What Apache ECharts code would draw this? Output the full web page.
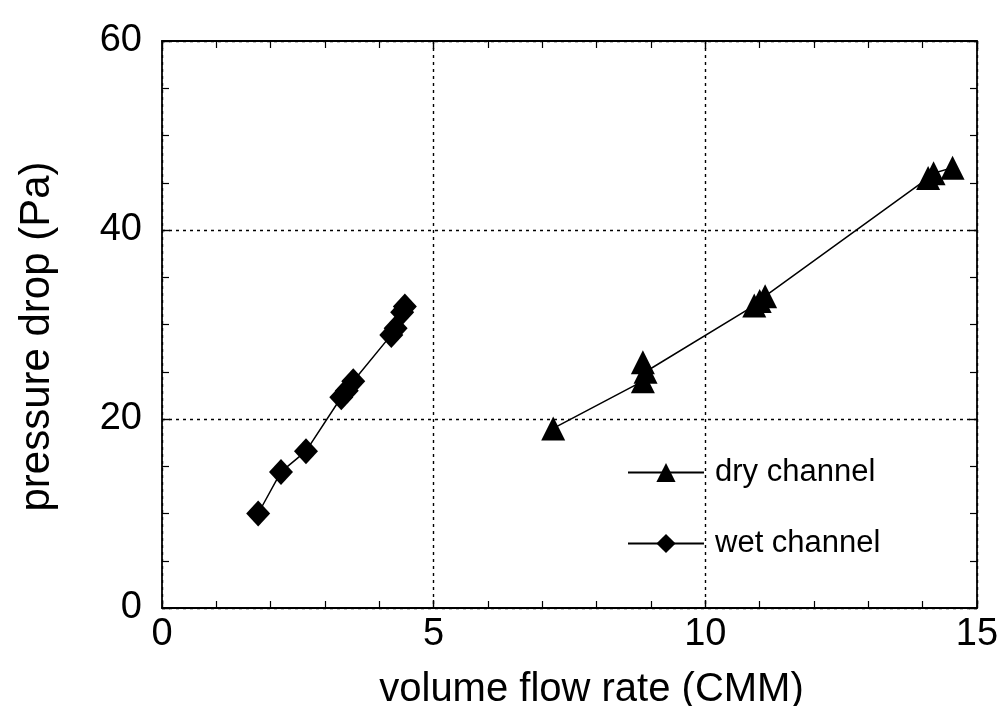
<!DOCTYPE html>
<html><head><meta charset="utf-8">
<script src="https://cdn.jsdelivr.net/npm/echarts@6/dist/echarts.min.js"></script>
<style>html,body{margin:0;padding:0;background:#fff}#c{width:998px;height:706px}</style>
</head><body><div id="c"></div>
<script>
const dryX = [7.2, 8.85, 8.85, 8.9, 10.9, 11.0, 11.1, 14.1, 14.2, 14.55];
const dryY = [19.0, 24.0, 26.0, 25.0, 32.0, 32.5, 33.0, 45.5, 46.0, 46.6];
const wetX = [1.77, 2.19, 2.65, 3.3, 3.4, 3.52, 4.22, 4.3, 4.42, 4.47];
const wetY = [10.0, 14.4, 16.6, 22.3, 23.0, 24.0, 28.9, 29.6, 31.3, 31.9];
const xTicks = [0, 5, 10, 15];
const yTicks = [0, 20, 40, 60];
const xName = 'volume flow rate (CMM)';
const yName = 'pressure drop (Pa)';
const dryName = 'dry channel';
const wetName = 'wet channel';

const pair = (xs, ys) => xs.map((x, i) => [x, ys[i]]);
const font = 'Liberation Sans, Arial, sans-serif';
const chart = echarts.init(document.getElementById('c'), null, {renderer: 'canvas'});
const axisLine = {show: true, onZero: false, lineStyle: {color: '#000', width: 1.8}};
const split = {show: true, lineStyle: {color: '#000', width: 1.4, type: [3, 4]}};
const tick = {show: true, inside: true, length: 8, lineStyle: {color: '#000', width: 1.4}};
chart.setOption({
  animation: false,
  backgroundColor: '#fff',
  grid: {left: 162, right: 21, top: 41, bottom: 98, containLabel: false, outerBoundsMode: 'none'},
  legend: {
    orient: 'vertical', left: 622, top: 452, itemGap: 40,
    itemWidth: 76, itemHeight: 24,
    textStyle: {fontFamily: font, fontSize: 31, color: '#000', padding: [0, 0, 0, 6]},
    data: [dryName, wetName]
  },
  xAxis: [{
    type: 'value', min: xTicks[0], max: xTicks[xTicks.length - 1], interval: 5,
    axisLine, splitLine: split, axisTick: tick,
    minorTick: {show: true, splitNumber: 5, length: 7, lineStyle: {color: '#000', width: 1.2}},
    axisLabel: {fontFamily: font, fontSize: 38, color: '#000', margin: 8},
    name: xName, nameLocation: 'middle', nameGap: 62,
    nameTextStyle: {fontFamily: font, fontSize: 40, color: '#000', padding: [0, 0, 0, 44]}
  }, {
    type: 'value', position: 'top', min: 0, max: 15, interval: 5,
    axisLine, splitLine: {show: false}, axisLabel: {show: false}, axisTick: tick,
    minorTick: {show: true, splitNumber: 5, length: 7, lineStyle: {color: '#000', width: 1.2}}
  }],
  yAxis: [{
    type: 'value', min: yTicks[0], max: yTicks[yTicks.length - 1], interval: 20,
    axisLine, splitLine: split, axisTick: tick,
    minorTick: {show: true, splitNumber: 4, length: 7, lineStyle: {color: '#000', width: 1.2}},
    axisLabel: {fontFamily: font, fontSize: 38, color: '#000', margin: 20},
    name: yName, nameLocation: 'middle', nameGap: 104, nameRotate: 90,
    nameTextStyle: {fontFamily: font, fontSize: 42, color: '#000', padding: [0, 24, 0, 0]}
  }, {
    type: 'value', position: 'right', min: 0, max: 60, interval: 20,
    axisLine, splitLine: {show: false}, axisLabel: {show: false}, axisTick: tick,
    minorTick: {show: true, splitNumber: 4, length: 7, lineStyle: {color: '#000', width: 1.2}}
  }],
  series: [{
    name: dryName, type: 'line', data: pair(dryX, dryY),
    symbol: 'triangle', symbolSize: 24, showAllSymbol: true,
    itemStyle: {color: '#000'}, lineStyle: {color: '#000', width: 1.5}
  }, {
    name: wetName, type: 'line', data: pair(wetX, wetY),
    symbol: 'diamond', symbolSize: [24, 26], showAllSymbol: true,
    itemStyle: {color: '#000'}, lineStyle: {color: '#000', width: 1.5}
  }]
});
</script></body></html>
